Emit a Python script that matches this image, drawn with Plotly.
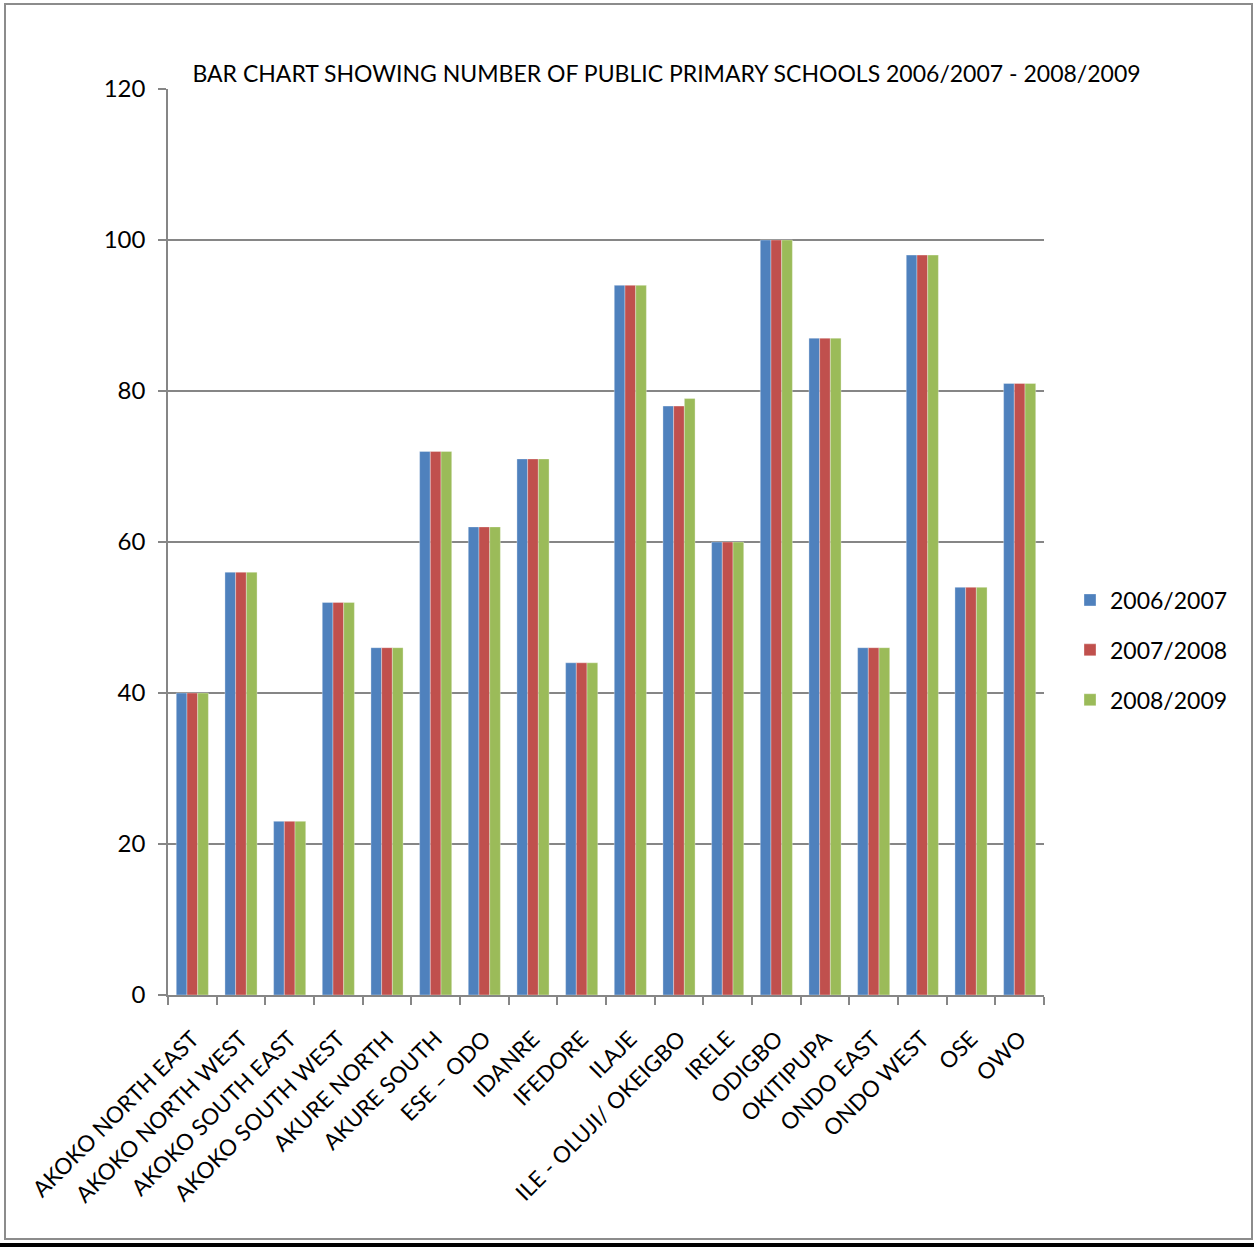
import plotly.graph_objects as go

categories = ["AKOKO NORTH EAST", "AKOKO NORTH WEST", "AKOKO SOUTH EAST", "AKOKO SOUTH WEST",
              "AKURE NORTH", "AKURE SOUTH", "ESE \u2013 ODO", "IDANRE", "IFEDORE", "ILAJE",
              "ILE - OLUJI/ OKEIGBO", "IRELE", "ODIGBO", "OKITIPUPA", "ONDO EAST", "ONDO WEST",
              "OSE", "OWO"]
s2006 = [40, 56, 23, 52, 46, 72, 62, 71, 44, 94, 78, 60, 100, 87, 46, 98, 54, 81]
s2007 = [40, 56, 23, 52, 46, 72, 62, 71, 44, 94, 78, 60, 100, 87, 46, 98, 54, 81]
s2008 = [40, 56, 23, 52, 46, 72, 62, 71, 44, 94, 79, 60, 100, 87, 46, 98, 54, 81]
series_names = ["2006/2007", "2007/2008", "2008/2009"]
colors = ["#4F81BD", "#C0504D", "#9BBB59"]
y_ticks = [0, 20, 40, 60, 80, 100, 120]

W, H = 1254, 1249
L, R, T, B = 168, 1044, 89, 995
FONT = "Lato"

fig = go.Figure()
for name, vals, col in zip(series_names, [s2006, s2007, s2008], colors):
    fig.add_trace(go.Bar(
        x=categories, y=vals, name=name, legendgroup=name,
        marker=dict(color=col, line=dict(color="rgba(255,255,255,0.55)", width=0.6)),
    ))

def px2paper_x(px):
    return (px - L) / (R - L)

def px2paper_y(py):
    return (B - py) / (B - T)

shapes = [
    dict(type="rect", xref="paper", yref="paper",
         x0=px2paper_x(5), x1=px2paper_x(1252), y0=px2paper_y(1239), y1=px2paper_y(4),
         line=dict(color="#8C8C8C", width=2), fillcolor="rgba(0,0,0,0)", layer="below"),
    dict(type="line", xref="paper", yref="paper",
         x0=px2paper_x(0), x1=px2paper_x(1254), y0=px2paper_y(1245), y1=px2paper_y(1245),
         line=dict(color="#000000", width=4)),
]

fig.update_layout(
    width=W, height=H,
    margin=dict(l=L, r=W - R, t=T, b=H - B, pad=0),
    paper_bgcolor="white", plot_bgcolor="white",
    font=dict(family=FONT, color="#000000"),
    title=dict(text="BAR CHART SHOWING NUMBER OF PUBLIC PRIMARY SCHOOLS 2006/2007 - 2008/2009",
               font=dict(family=FONT, size=23, color="#000000"),
               xref="container", yref="container",
               x=666.5 / W, y=1 - 74 / H, xanchor="center", yanchor="middle"),
    barmode="group", bargap=0.34, bargroupgap=0.0,
    legend=dict(x=px2paper_x(1070), y=px2paper_y(650), xanchor="left", yanchor="middle",
                xref="paper", yref="paper",
                font=dict(family=FONT, size=23, color="#000000"),
                traceorder="grouped", tracegroupgap=17, itemwidth=30,
                bgcolor="rgba(0,0,0,0)"),
    shapes=shapes,
)

fig.update_yaxes(range=[0, 120], tickvals=y_ticks, ticktext=[str(v) for v in y_ticks],
                 showgrid=True, gridcolor="#868686", gridwidth=1.6,
                 showline=True, linecolor="#868686", linewidth=1.6,
                 ticks="outside", ticklen=8, tickcolor="#868686", tickwidth=1.6,
                 tickfont=dict(family=FONT, size=24, color="#000000"),
                 zeroline=False, ticklabelstandoff=8)
fig.update_xaxes(type="category", tickangle=-45, tickson="boundaries",
                 showline=True, linecolor="#868686", linewidth=1.6,
                 ticks="outside", ticklen=8, tickcolor="#868686", tickwidth=1.6,
                 tickfont=dict(family=FONT, size=22.5, color="#000000"),
                 showgrid=False, ticklabelstandoff=20)

fig.write_html("out.html", config={"displayModeBar": False},
               post_script="document.body.style.margin='0';document.body.style.overflow='hidden';")
